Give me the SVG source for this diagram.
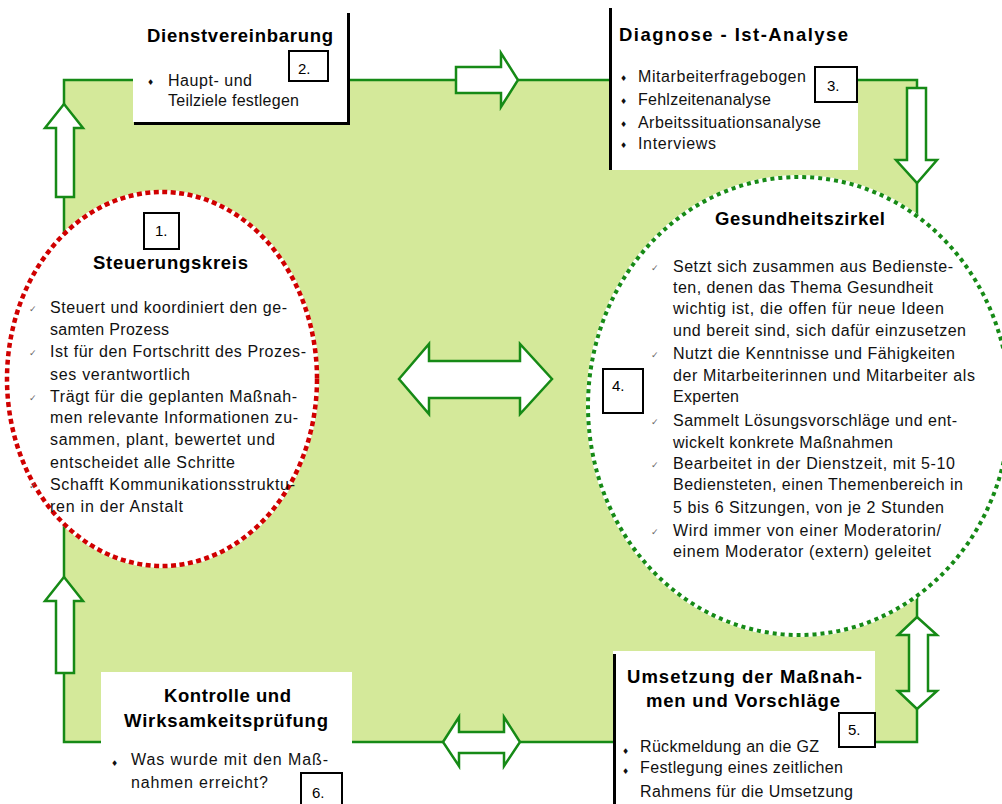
<svg xmlns="http://www.w3.org/2000/svg" width="1002" height="804" viewBox="0 0 1002 804">
<style>
.t{font-family:"Liberation Sans",Arial,sans-serif;font-size:16px;fill:#111}
.h{font-family:"Liberation Sans",Arial,sans-serif;font-size:18.5px;font-weight:bold;fill:#000}
.n{font-family:"Liberation Sans",Arial,sans-serif;font-size:15px;fill:#000}
.ck{font-family:"DejaVu Sans",sans-serif;font-size:9px;fill:#666}
.bl{font-family:"DejaVu Sans",sans-serif;font-size:8px;fill:#111}
.ar{fill:#fff;stroke:#168a16;stroke-width:2.5;stroke-linejoin:miter}
.nb{fill:#fff;stroke:#000;stroke-width:2}
.bd{stroke:#000;stroke-width:3;fill:none}
</style>
<rect width="1002" height="804" fill="#fff"/>
<g id="connectors">
  <rect x="64" y="80" width="853" height="662" fill="#d4e99a" stroke="#168a16" stroke-width="2.5"/>
  <polygon class="ar" points="64,104 83,128 74,128 74,197 56,197 56,128 45,128"/>
  <polygon class="ar" points="64,577 83,601 74,601 74,673 56,673 56,601 45,601"/>
  <polygon class="ar" points="456,67 501,67 501,53 518,80 501,107 501,93 456,93"/>
  <polygon class="ar" points="907,88 926,88 926,160 937,160 917,183 896,160 907,160"/>
  <polygon class="ar" points="917,617 937,635 928,635 928,691 937,691 917,709 898,691 909,691 909,635 898,635"/>
  <polygon class="ar" points="443,742 459,717 459,732 504,732 504,717 520,742 504,766 504,753 459,753 459,766"/>
  <polygon class="ar" points="399,379 429,344 429,361 520,361 520,344 552,379 520,414 520,398 429,398 429,414"/>
</g>
<g id="steuerungskreis">
  <ellipse cx="162" cy="379" rx="155" ry="187" fill="#fff" stroke="#fff" stroke-width="4"/>
  <ellipse cx="162" cy="379" rx="155" ry="187" fill="none" stroke="#d00000" stroke-width="4.5" stroke-dasharray="5 3.5"/>
  <rect class="nb" x="144" y="213" width="35" height="36"/>
  <text class="n" x="155" y="236">1.</text>
  <text class="h" x="93" y="269" textLength="155">Steuerungskreis</text>
  <text class="ck" x="29" y="312">✓</text>
  <text class="ck" x="29" y="356">✓</text>
  <text class="ck" x="29" y="401">✓</text>
  <text class="ck" x="29" y="489">✓</text>
  <text class="t" x="50" y="313" textLength="237">Steuert und koordiniert den ge-</text>
  <text class="t" x="50" y="335" textLength="119">samten Prozess</text>
  <text class="t" x="50" y="357" textLength="256">Ist für den Fortschritt des Prozes-</text>
  <text class="t" x="50" y="380" textLength="140">ses verantwortlich</text>
  <text class="t" x="50" y="402" textLength="247">Trägt für die geplanten Maßnah-</text>
  <text class="t" x="50" y="423" textLength="248">men relevante Informationen zu-</text>
  <text class="t" x="50" y="445" textLength="225">sammen, plant, bewertet und</text>
  <text class="t" x="50" y="468" textLength="185">entscheidet alle Schritte</text>
  <text class="t" x="50" y="490" textLength="245">Schafft Kommunikationsstruktu-</text>
  <text class="t" x="50" y="512" textLength="133">ren in der Anstalt</text>
</g>
<g id="gesundheitszirkel">
  <ellipse cx="799" cy="406" rx="211" ry="229" fill="#fff" stroke="#fff" stroke-width="4"/>
  <ellipse cx="799" cy="406" rx="211" ry="229" fill="none" stroke="#168a16" stroke-width="4" stroke-dasharray="4 4"/>
  <text class="h" x="715" y="225" textLength="170">Gesundheitszirkel</text>
  <rect class="nb" x="603" y="369" width="40" height="44"/>
  <text class="n" x="612" y="391">4.</text>
  <text class="ck" x="651" y="271">✓</text>
  <text class="ck" x="651" y="358">✓</text>
  <text class="ck" x="651" y="425">✓</text>
  <text class="ck" x="651" y="468">✓</text>
  <text class="ck" x="651" y="535">✓</text>
  <text class="t" x="673" y="272" textLength="280">Setzt sich zusammen aus Bedienste-</text>
  <text class="t" x="673" y="293" textLength="260">ten, denen das Thema Gesundheit</text>
  <text class="t" x="673" y="314" textLength="271">wichtig ist, die offen für neue Ideen</text>
  <text class="t" x="673" y="336" textLength="293">und bereit sind, sich dafür einzusetzen</text>
  <text class="t" x="673" y="359" textLength="282">Nutzt die Kenntnisse und Fähigkeiten</text>
  <text class="t" x="673" y="381" textLength="302">der Mitarbeiterinnen und Mitarbeiter als</text>
  <text class="t" x="673" y="402" textLength="66">Experten</text>
  <text class="t" x="673" y="426" textLength="284">Sammelt Lösungsvorschläge und ent-</text>
  <text class="t" x="673" y="448" textLength="220">wickelt konkrete Maßnahmen</text>
  <text class="t" x="673" y="469" textLength="282">Bearbeitet in der Dienstzeit, mit 5-10</text>
  <text class="t" x="673" y="490" textLength="290">Bediensteten, einen Themenbereich in</text>
  <text class="t" x="673" y="513" textLength="271">5 bis 6 Sitzungen, von je 2 Stunden</text>
  <text class="t" x="673" y="536" textLength="268">Wird immer von einer Moderatorin/</text>
  <text class="t" x="673" y="557" textLength="258">einem Moderator (extern) geleitet</text>
</g>
<g id="dienstvereinbarung">
  <rect x="133" y="13" width="215" height="109" fill="#fff"/>
  <path class="bd" d="M348.5,13 V123.5 H134"/>
  <text class="h" x="147" y="42" textLength="186">Dienstvereinbarung</text>
  <rect class="nb" x="289" y="51" width="39" height="30"/>
  <text class="n" x="298" y="74">2.</text>
  <text class="bl" x="147" y="85">♦</text>
  <text class="t" x="168" y="86" textLength="84">Haupt- und</text>
  <text class="t" x="168" y="106" textLength="131">Teilziele festlegen</text>
</g>
<g id="diagnose">
  <rect x="609" y="8" width="249" height="162" fill="#fff"/>
  <path class="bd" d="M610.5,8 V170"/>
  <text class="h" x="619" y="41" textLength="229">Diagnose - Ist-Analyse</text>
  <rect class="nb" x="815" y="67" width="42" height="35"/>
  <text class="n" x="827" y="91">3.</text>
  <text class="bl" x="620" y="81">♦</text>
  <text class="bl" x="620" y="104">♦</text>
  <text class="bl" x="620" y="127">♦</text>
  <text class="bl" x="620" y="148">♦</text>
  <text class="t" x="638" y="82" textLength="168">Mitarbeiterfragebogen</text>
  <text class="t" x="638" y="105" textLength="133">Fehlzeitenanalyse</text>
  <text class="t" x="638" y="128" textLength="183">Arbeitssituationsanalyse</text>
  <text class="t" x="638" y="149" textLength="78">Interviews</text>
</g>
<g id="umsetzung">
  <rect x="613" y="651" width="262" height="153" fill="#fff"/>
  <path class="bd" d="M614.5,654 V804"/>
  <text class="h" x="627" y="683" textLength="235">Umsetzung der Maßnah-</text>
  <text class="h" x="646" y="707" textLength="194">men und Vorschläge</text>
  <rect class="nb" x="839" y="713" width="36" height="34"/>
  <text class="n" x="848" y="735">5.</text>
  <text class="bl" x="622" y="754">♦</text>
  <text class="bl" x="622" y="774">♦</text>
  <text class="t" x="640" y="752" textLength="179">Rückmeldung an die GZ</text>
  <text class="t" x="640" y="773" textLength="203">Festlegung eines zeitlichen</text>
  <text class="t" x="640" y="797" textLength="213">Rahmens für die Umsetzung</text>
</g>
<g id="kontrolle">
  <rect x="101" y="672" width="251" height="132" fill="#fff"/>
  <text class="h" x="164" y="702" textLength="127">Kontrolle und</text>
  <text class="h" x="124" y="727" textLength="204">Wirksamkeitsprüfung</text>
  <text class="bl" x="111" y="766">♦</text>
  <text class="t" x="131" y="765" textLength="197">Was wurde mit den Maß-</text>
  <text class="t" x="131" y="788" textLength="137">nahmen erreicht?</text>
  <rect class="nb" x="301" y="773" width="41" height="40"/>
  <text class="n" x="312" y="798">6.</text>
</g>
</svg>
